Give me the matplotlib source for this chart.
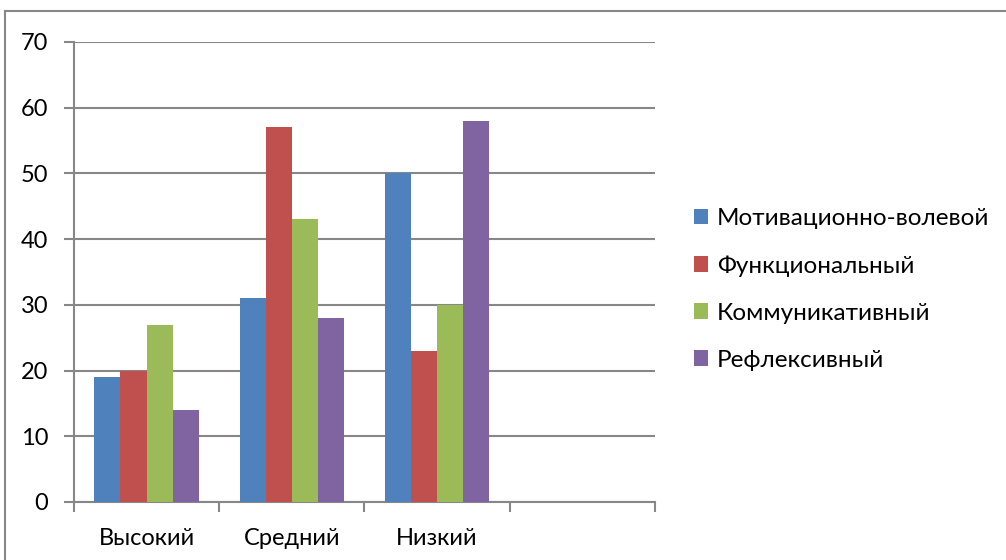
import matplotlib
matplotlib.use("Agg")
import matplotlib.pyplot as plt
from matplotlib.patches import Patch
from matplotlib.lines import Line2D
import numpy as np

plt.rcParams['font.family'] = ['Lato', 'DejaVu Sans']

categories = ["Высокий", "Средний", "Низкий", ""]
series_names = ["Мотивационно-волевой", "Функциональный", "Коммуникативный", "Рефлексивный"]
motivational = [19, 31, 50]
functional = [20, 57, 23]
communicative = [27, 43, 30]
reflexive = [14, 28, 58]
colors = ["#4F81BD", "#C0504D", "#9BBB59", "#8064A2"]
y_ticks = [0, 10, 20, 30, 40, 50, 60, 70]

grid_color = "#878787"

fig = plt.figure(figsize=(10.06, 5.6), dpi=100)
ax = fig.add_axes([74 / 1006, 1 - 502 / 560, 581 / 1006, 460 / 560])

values = [motivational, functional, communicative, reflexive]
bar_w = 0.18
x = np.arange(len(motivational))
for i, (vals, c) in enumerate(zip(values, colors)):
    ax.bar(x + (i - 1.5) * bar_w, vals, width=bar_w, color=c, zorder=3,
           edgecolor="none")

ax.set_xlim(-0.5, len(categories) - 0.5)
ax.set_ylim(0, 70)
ax.set_yticks(y_ticks)
ax.set_yticklabels([str(t) for t in y_ticks], fontsize=17)
ax.yaxis.grid(True, color=grid_color, linewidth=1.5, zorder=0)
ax.set_axisbelow(True)

# category boundaries carry the tick marks, labels sit in the middle
ax.set_xticks(np.arange(len(categories) + 1) - 0.5)
ax.set_xticklabels([])
ax.set_xticks(np.arange(len(categories)), minor=True)
ax.set_xticklabels(categories, minor=True, fontsize=17)
ax.tick_params(axis="x", which="major", length=7, width=1.5, color=grid_color, direction="out")
ax.tick_params(axis="x", which="minor", length=0, pad=19)
ax.tick_params(axis="y", length=7, width=1.5, color=grid_color, pad=11.5)

for side in ["top", "right"]:
    ax.spines[side].set_visible(False)
for side in ["left", "bottom"]:
    ax.spines[side].set_color(grid_color)
    ax.spines[side].set_linewidth(1.5)

handles = [Patch(facecolor=c, edgecolor="none") for c in colors]
fig.legend(handles, series_names, loc="center left",
           bbox_to_anchor=(684 / 1006, 1 - 289.5 / 560), frameon=False,
           fontsize=17.5, handlelength=0.6, handleheight=0.6,
           handletextpad=0.35, labelspacing=1.07, borderaxespad=0)

# outer chart frame
fig.add_artist(Line2D([4.5 / 1006, 4.5 / 1006], [0, 1 - 10.5 / 560],
                      transform=fig.transFigure, color=grid_color, linewidth=1.5))
fig.add_artist(Line2D([4.5 / 1006, 1], [1 - 10.5 / 560, 1 - 10.5 / 560],
                      transform=fig.transFigure, color=grid_color, linewidth=1.5))

fig.savefig("out.png", dpi=100, facecolor="white")
